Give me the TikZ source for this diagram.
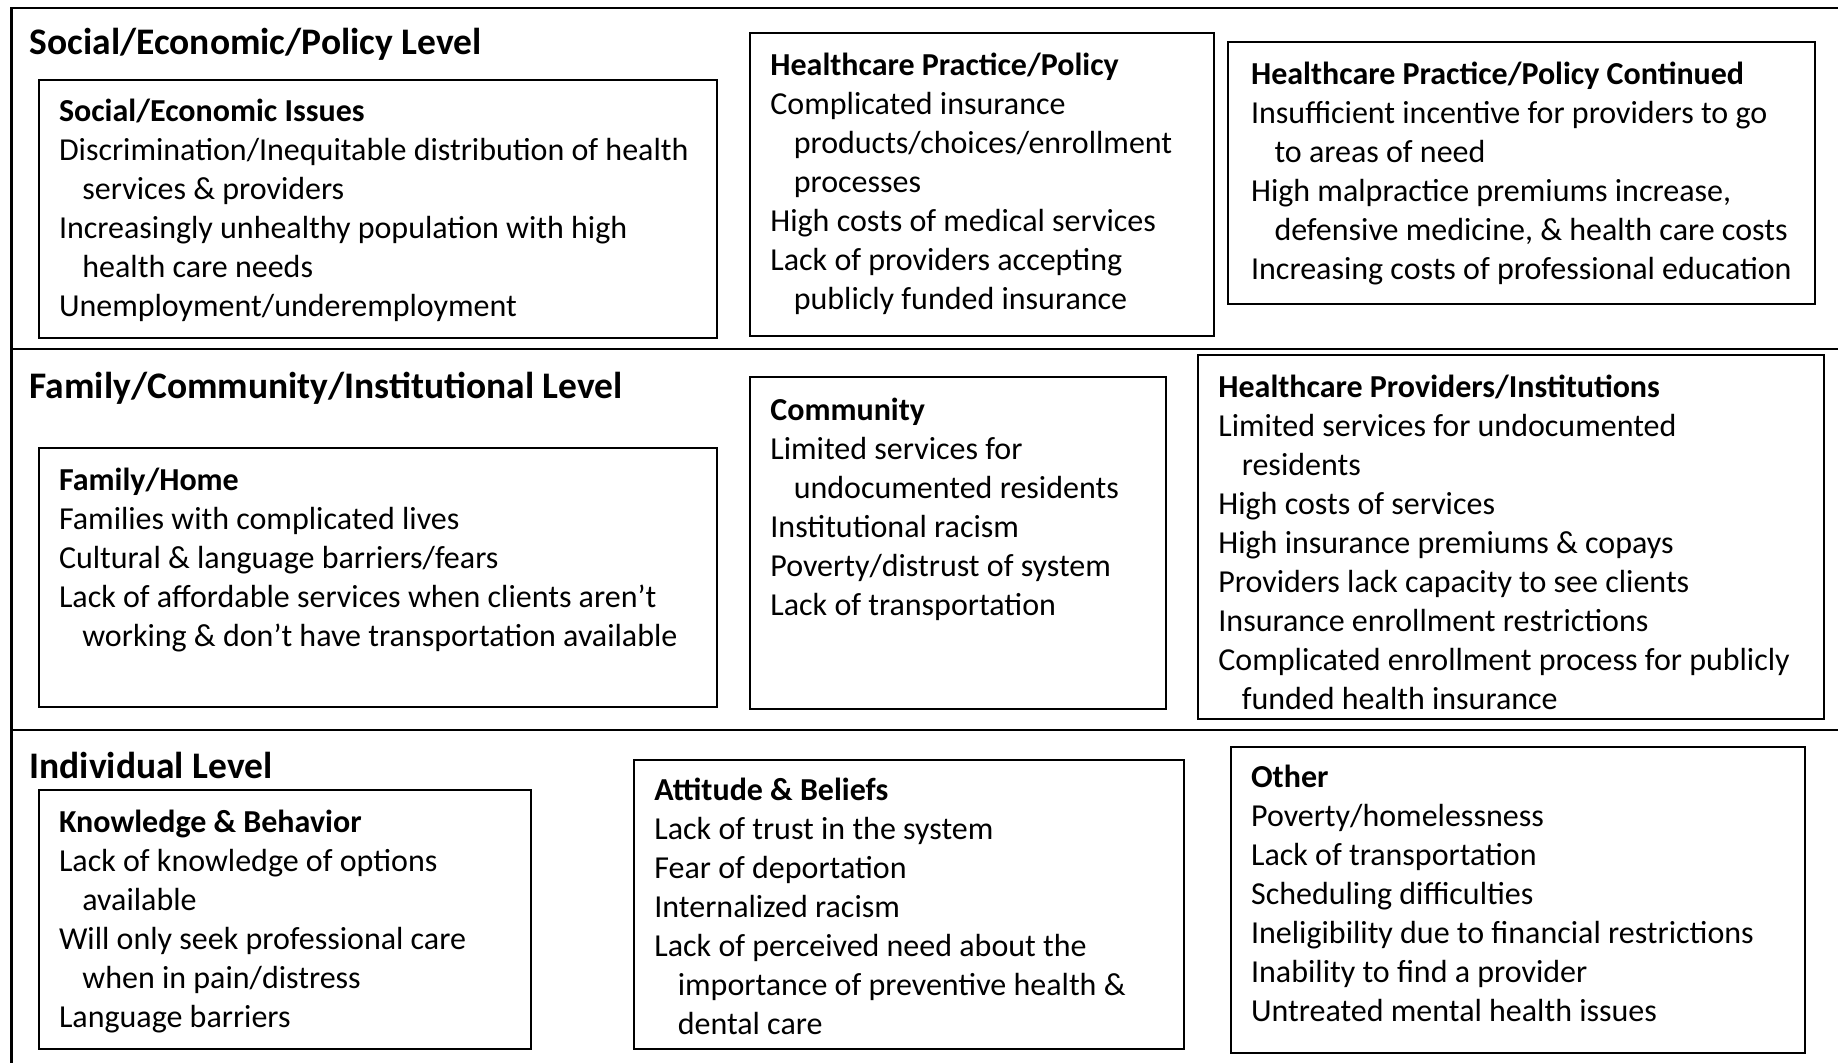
\documentclass[tikz,border=0pt]{standalone}
\usepackage{fontspec}
\setmainfont{Carlito}

\newcommand{\moreline}{\hspace*{11.7pt}}

\tikzset{
  frameline/.style={line width=1.3pt},
  issuebox/.style={draw, line width=1pt},
  level/.style={anchor=west, inner sep=0pt, font=\fontsize{18.75}{22}\selectfont\bfseries},
  issues/.style={anchor=north west, inner sep=0pt, align=left, font=\fontsize{16}{19.5}\selectfont},
}

\begin{document}
\begin{tikzpicture}[x=0.5pt,y=-0.5pt]
  \useasboundingbox (0,0) rectangle (1838,1063);

  % frame and level bands
  \draw[frameline] (11.7,1063) -- (11.7,8) -- (1838,8);
  \draw[frameline] (11.7,349) -- (1838,349);
  \draw[frameline] (11.7,730) -- (1838,730);

  % social/economic/policy level
  \node[level] (social) at (29.3,44.5) {Social/Economic/Policy Level};
  \draw[issuebox] (38.7,79.7) rectangle (717.4,337.6);
  \node[issues] (sei) at (58.6,99) {{\bfseries Social/Economic Issues}\\
    Discrimination/Inequitable distribution of health\\
    \moreline services \& providers\\
    Increasingly unhealthy population with high\\
    \moreline health care needs\\
    Unemployment/underemployment};
  \draw[issuebox] (750,32.8) rectangle (1214,336.4);
  \node[issues] (hpp) at (770,52.3) {{\bfseries Healthcare Practice/Policy}\\
    Complicated insurance\\
    \moreline products/choices/enrollment\\
    \moreline processes\\
    High costs of medical services\\
    Lack of providers accepting\\
    \moreline publicly funded insurance};
  \draw[issuebox] (1228,42.2) rectangle (1815,303.6);
  \node[issues] (hppc) at (1250.7,61.7) {{\bfseries Healthcare Practice/Policy Continued}\\
    Insufficient incentive for providers to go\\
    \moreline to areas of need\\
    High malpractice premiums increase,\\
    \moreline defensive medicine, \& health care costs\\
    Increasing costs of professional education};

  % family/community/institutional level
  \node[level] (family) at (29.3,388) {Family/Community/Institutional Level};
  \draw[issuebox] (38.7,447.8) rectangle (717.4,706.8);
  \node[issues] (home) at (58.6,467.3) {{\bfseries Family/Home}\\
    Families with complicated lives\\
    Cultural \& language barriers/fears\\
    Lack of affordable services when clients aren’t\\
    \moreline working \& don’t have transportation available};
  \draw[issuebox] (750,377.4) rectangle (1166,709.2);
  \node[issues] (community) at (770,397.2) {{\bfseries Community}\\
    Limited services for\\
    \moreline undocumented residents\\
    Institutional racism\\
    Poverty/distrust of system\\
    Lack of transportation};
  \draw[issuebox] (1198,355.2) rectangle (1824,718.6);
  \node[issues] (providers) at (1218,374.7) {{\bfseries Healthcare Providers/Institutions}\\
    Limited services for undocumented\\
    \moreline residents\\
    High costs of services\\
    High insurance premiums \& copays\\
    Providers lack capacity to see clients\\
    Insurance enrollment restrictions\\
    Complicated enrollment process for publicly\\
    \moreline funded health insurance};

  % individual level
  \node[level] (individual) at (29.3,765.5) {Individual Level};
  \draw[issuebox] (38.7,790) rectangle (531,1049);
  \node[issues] (knowledge) at (58.6,809.5) {{\bfseries Knowledge \& Behavior}\\
    Lack of knowledge of options\\
    \moreline available\\
    Will only seek professional care\\
    \moreline when in pain/distress\\
    Language barriers};
  \draw[issuebox] (634,759.6) rectangle (1184,1049);
  \node[issues] (attitude) at (654,777.2) {{\bfseries Attitude \& Beliefs}\\
    Lack of trust in the system\\
    Fear of deportation\\
    Internalized racism\\
    Lack of perceived need about the\\
    \moreline importance of preventive health \&\\
    \moreline dental care};
  \draw[issuebox] (1231,746.7) rectangle (1805,1052.6);
  \node[issues] (other) at (1250.7,764.7) {{\bfseries Other}\\
    Poverty/homelessness\\
    Lack of transportation\\
    Scheduling difficulties\\
    Ineligibility due to financial restrictions\\
    Inability to find a provider\\
    Untreated mental health issues};
\end{tikzpicture}
\end{document}
